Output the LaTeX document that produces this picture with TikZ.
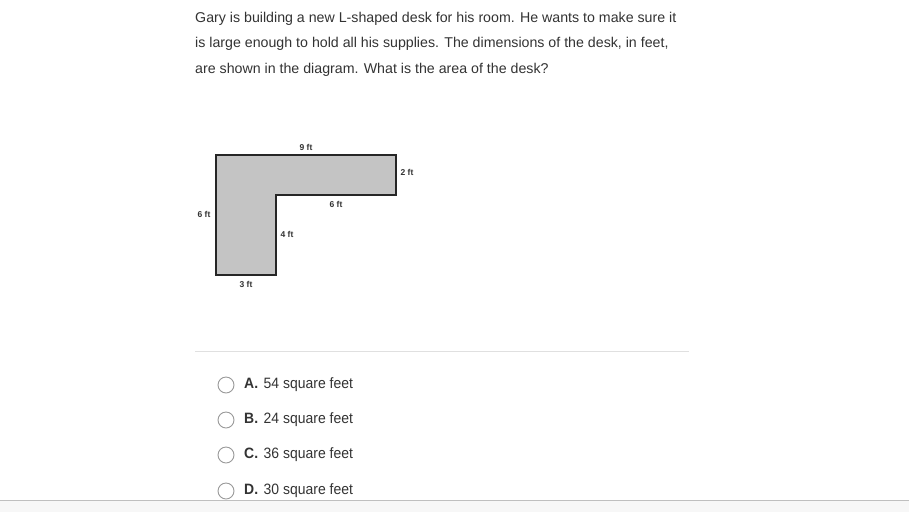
\documentclass[tikz,border=0pt]{standalone}
\usepackage{fontspec}
\setmainfont{Liberation Sans}
\definecolor{txt}{HTML}{333333}
\definecolor{fillg}{HTML}{C4C4C4}
\tikzset{
  para/.style={anchor=west, inner sep=0pt, text=txt, font=\fontsize{14.2}{16}\selectfont},
  dim/.style={inner sep=0pt, text=txt, font=\fontsize{8.5}{9}\selectfont\bfseries},
  opt/.style={anchor=west, inner sep=0pt, text=txt, font=\fontsize{15}{16}\selectfont},
  radio/.style={circle, draw=gray!80, line width=0.9pt, minimum size=16pt, inner sep=0pt},
}
\begin{document}
\begin{tikzpicture}[x=1pt,y=-1pt]
\useasboundingbox (0,0) rectangle (909,512);
\fill[white] (0,0) rectangle (909,512);
\node[para] (l1) at (195,19) {Gary is building a new L-shaped desk for his room. He wants to make sure it};
\node[para] (l2) at (195,44) {is large enough to hold all his supplies. The dimensions of the desk, in feet,};
\node[para] (l3) at (195,70) {are shown in the diagram. What is the area of the desk?};
% L shape
\filldraw[fill=fillg, draw=black!85, line width=1.6pt]
  (216,155) -- (396,155) -- (396,195) -- (276,195) -- (276,275) -- (216,275) -- cycle;
\node[dim] (d9) at (306,147) {9 ft};
\node[dim] (d2) at (407,172) {2 ft};
\node[dim] (d6i) at (336,204) {6 ft};
\node[dim] (d6l) at (204,214) {6 ft};
\node[dim] (d4) at (287,234) {4 ft};
\node[dim] (d3) at (246,284) {3 ft};
% separator
\draw[black!12, line width=0.8pt] (195,351) -- (689,351);
% options
\begin{scope}
\clip (0,0) rectangle (909,500);
\foreach \y/\L/\v in {385/A/54, 420/B/24, 455/C/36, 491/D/30} {
  \node[radio] (r\L) at (226,\y) {};
  \node[opt] (o\L) at (244,\y) {\scalebox{0.93}[1]{\textbf{\L.}\hspace{6pt}\v{} square feet}};
}
\end{scope}
\fill[black!3] (0,500) rectangle (909,512);
\draw[black!25, line width=0.8pt] (0,500) -- (909,500);
\end{tikzpicture}
\end{document}
